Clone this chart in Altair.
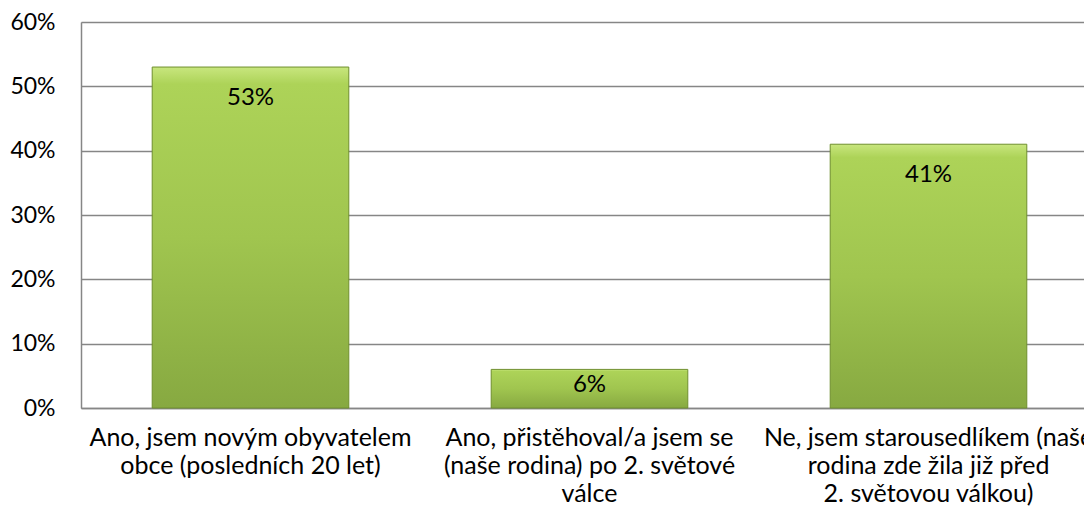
import altair as alt
import pandas as pd

categories = [
    "Ano, jsem novým obyvatelem|obce (posledních 20 let)",
    "Ano, přistěhoval/a jsem se|(naše rodina) po 2. světové|válce",
    "Ne, jsem starousedlíkem (naše|rodina zde žila již před|2. světovou válkou)",
]
values = [0.53, 0.06, 0.41]
labels = ["53%", "6%", "41%"]

df = pd.DataFrame({"cat": categories, "value": values, "label": labels})

FONT = "Lato"

grad = alt.Gradient(
    gradient="linear",
    stops=[
        alt.GradientStop(color="#c8e67e", offset=0),
        alt.GradientStop(color="#add358", offset=0.05),
        alt.GradientStop(color="#a0c54f", offset=0.5),
        alt.GradientStop(color="#87a941", offset=1),
    ],
    x1=0, x2=0, y1=0, y2=1,
)

x = alt.X(
    "cat:N",
    sort=categories,
    title=None,
    scale=alt.Scale(paddingInner=0.42, paddingOuter=0.21, range=[0, 1017]),
    axis=alt.Axis(
        labelAngle=0,
        labelExpr="split(datum.label, '|')",
        labelFont=FONT,
        labelFontSize=25,
        labelColor="#000000",
        labelLineHeight=28,
        labelPadding=17,
        labelLimit=420,
        ticks=False,
        domainColor="#868686",
        domainWidth=1.5,
    ),
)

y = alt.Y(
    "value:Q",
    title=None,
    scale=alt.Scale(domain=[0, 0.6]),
    axis=alt.Axis(
        format=".0%",
        values=[0, 0.1, 0.2, 0.3, 0.4, 0.5, 0.6],
        labelFont=FONT,
        labelFontSize=23,
        labelColor="#000000",
        labelPadding=26,
        ticks=False,
        domainColor="#868686",
        domainWidth=1.5,
        gridColor="#868686",
        gridWidth=1.5,
    ),
)

base = alt.Chart(df)

bars = base.mark_bar(fill=grad, stroke="#6f8f2e", strokeWidth=1).encode(x=x, y=y)

text = (
    base.transform_calculate(ly="max(datum.value - 0.048, datum.value * 0.6)")
    .mark_text(font=FONT, fontSize=24, color="#000000", baseline="middle")
    .encode(x=alt.X("cat:N", sort=categories), y=alt.Y("ly:Q"), text="label:N")
)

chart = (
    alt.layer(bars, text)
    .properties(
        width=1003,
        height=386,
        autosize=alt.AutoSizeParams(type="none"),
        padding={"left": 73, "top": 14, "right": 0, "bottom": 99},
    )
    .configure_view(stroke=None)
    .configure(background="white")
)

chart.save("out.html", embed_options={"renderer": "svg", "actions": False})
